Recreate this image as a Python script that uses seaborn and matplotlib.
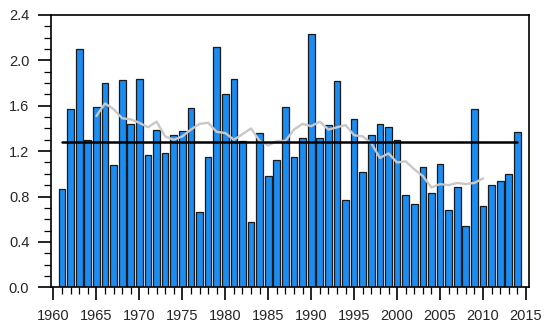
import numpy as np
import pandas as pd
import matplotlib
matplotlib.use("Agg")
import matplotlib.pyplot as plt
from matplotlib.ticker import MultipleLocator, FormatStrFormatter
import seaborn as sns

years = list(range(1961, 2015))
values = [0.87, 1.57, 2.10, 1.30, 1.59, 1.80, 1.08, 1.83, 1.44, 1.84,
          1.17, 1.39, 1.18, 1.34, 1.38, 1.58, 0.66, 1.15, 2.12, 1.70,
          1.84, 1.29, 0.58, 1.36, 0.98, 1.12, 1.59, 1.15, 1.32, 2.23,
          1.32, 1.43, 1.82, 0.77, 1.48, 1.02, 1.34, 1.44, 1.41, 1.30,
          0.81, 0.73, 1.06, 0.83, 1.09, 0.68, 0.88, 0.54, 1.57, 0.72,
          0.90, 0.94, 1.00, 1.37]

smooth_years = list(range(1965, 2011))
smooth_values = [1.51, 1.62, 1.57, 1.49, 1.48, 1.45, 1.41, 1.46, 1.33, 1.30,
                 1.33, 1.39, 1.44, 1.45, 1.37, 1.36, 1.30, 1.35, 1.40, 1.29,
                 1.25, 1.29, 1.29, 1.39, 1.44, 1.42, 1.46, 1.39, 1.41, 1.43,
                 1.34, 1.33, 1.27, 1.14, 1.18, 1.10, 1.11, 1.04, 0.98, 0.88,
                 0.91, 0.90, 0.92, 0.91, 0.92, 0.96]

mean_years = [1961, 2014]
mean_value = 1.28

x_ticks = list(range(1960, 2016, 5))

sns.set_style("white")
plt.rcParams['font.family'] = ['Liberation Sans', 'DejaVu Sans']

fig = plt.figure(figsize=(5.5, 3.32), dpi=100)
ax = fig.add_axes([0.0925, 0.1345, 0.8685, 0.8205])

df = pd.DataFrame({"year": years, "value": values})
sns.barplot(data=df, x="year", y="value", native_scale=True, width=0.78,
            color="#1A8CF2", saturation=1, edgecolor="#1a1a1a",
            linewidth=0.9, ax=ax, zorder=2)

sns.lineplot(x=smooth_years, y=smooth_values, color="#c8c8c8", linewidth=1.7,
             ax=ax, zorder=3)
sns.lineplot(x=mean_years, y=[mean_value, mean_value], color="black",
             linewidth=1.8, ax=ax, zorder=4)

ax.set_xticks(x_ticks)
ax.set_xticklabels([str(y) for y in x_ticks])
ax.xaxis.set_minor_locator(MultipleLocator(1))
ax.yaxis.set_major_locator(MultipleLocator(0.4))
ax.yaxis.set_minor_locator(MultipleLocator(0.1))
ax.yaxis.set_major_formatter(FormatStrFormatter("%.1f"))
ax.set_xlim(1959.7, 2015.3)
ax.set_ylim(0, 2.4)

ax.tick_params(axis="both", which="major", direction="out", length=9.5,
               width=1.2, labelsize=10.5, color="black")
ax.tick_params(axis="both", which="minor", direction="out", length=5,
               width=0.9, color="black")
ax.tick_params(axis="x", which="major", pad=6)
ax.tick_params(axis="y", which="major", pad=6)
ax.tick_params(bottom=True, left=True, top=False, right=False, which="both")

for s in ax.spines.values():
    s.set_visible(True)
    s.set_color("black")
    s.set_linewidth(1.2)

ax.set_xlabel("")
ax.set_ylabel("")
fig.savefig("out.png", dpi=100)
